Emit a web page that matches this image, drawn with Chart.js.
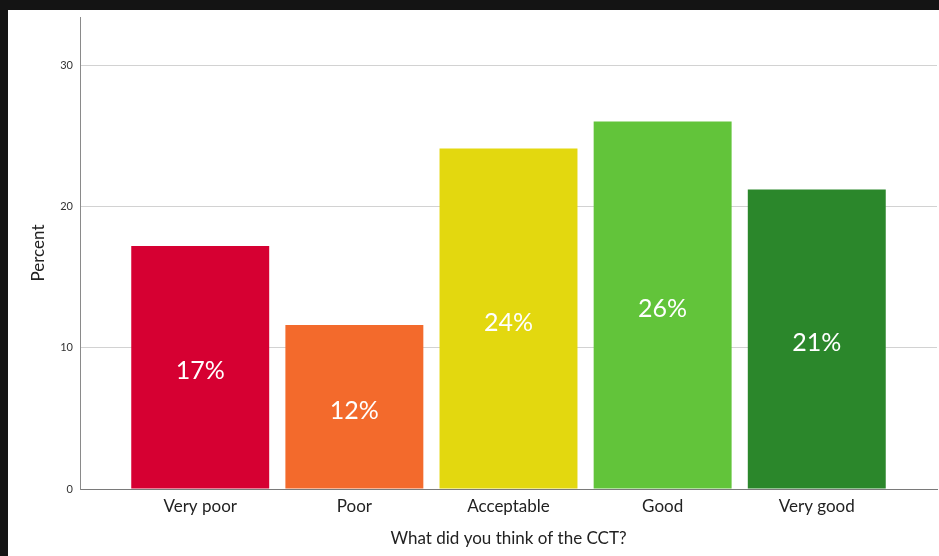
<!DOCTYPE html>
<html>
<head>
<meta charset="utf-8">
<script src="https://cdn.jsdelivr.net/npm/chart.js@4.4.0/dist/chart.umd.min.js"></script>
<style>
  html, body { margin: 0; padding: 0; background: #141414; overflow: hidden; }
  #wrap { position: absolute; left: 8px; top: 10px; width: 931px; height: 546px; background: #fff; }
</style>
</head>
<body>
<div id="wrap"><canvas id="cctChart"></canvas></div>
<script>
// answers on the x axis
var categories = ["Very poor", "Poor", "Acceptable", "Good", "Very good"];
// percent of answers (bar heights)
var percents = [17.2, 11.6, 24.1, 26.0, 21.2];
// text written inside each bar
var barLabels = ["17%", "12%", "24%", "26%", "21%"];
var barColors = ["#d60032", "#f36a2c", "#e3d80f", "#62c43a", "#2b872b"];
var yTicks = [0, 10, 20, 30];

var FONT = "Lato, 'Open Sans', sans-serif";

// write the percent text in the middle of every bar
var barTextPlugin = {
  id: "barText",
  afterDatasetsDraw: function (chart) {
    var ctx = chart.ctx;
    var meta = chart.getDatasetMeta(0);
    ctx.save();
    ctx.fillStyle = "#ffffff";
    ctx.font = "25px " + FONT;
    ctx.textAlign = "center";
    ctx.textBaseline = "middle";
    meta.data.forEach(function (bar, i) {
      ctx.fillText(barLabels[i], bar.x, (bar.y + bar.base) / 2 + 4);
    });
    ctx.restore();
  },
};

var points = percents.map(function (v, i) {
  return { x: i, y: v };
});

var chart = new Chart(document.getElementById("cctChart"), {
  type: "bar",
  data: {
    datasets: [
      {
        data: points,
        backgroundColor: barColors,
        borderWidth: 0,
        barPercentage: 0.895,
        categoryPercentage: 1,
      },
    ],
  },
  plugins: [barTextPlugin],
  options: {
    responsive: true,
    maintainAspectRatio: false,
    animation: false,
    layout: { padding: { top: 7, right: 2, left: 0, bottom: 0 } },
    plugins: {
      legend: { display: false },
      tooltip: { enabled: false },
    },
    scales: {
      x: {
        type: "linear",
        min: -0.78,
        max: 4.78,
        offset: false,
        grid: { display: false, drawTicks: false, offset: false },
        border: { display: true, color: "#7a7a7a", width: 1 },
        afterBuildTicks: function (scale) {
          scale.ticks = categories.map(function (c, i) {
            return { value: i };
          });
        },
        afterFit: function (scale) {
          scale.height = 67;
          scale.paddingLeft = 0;
          scale.paddingRight = 0;
        },
        ticks: {
          autoSkip: false,
          maxRotation: 0,
          padding: 7,
          color: "#222",
          font: { family: FONT, size: 17 },
          callback: function (value) {
            return categories[value];
          },
        },
        title: {
          display: true,
          text: "What did you think of the CCT?",
          color: "#222",
          font: { family: FONT, size: 17 },
          padding: { top: 0, bottom: 7 },
        },
      },
      y: {
        min: 0,
        max: 33.4,
        grid: { color: "#d2d2d2", lineWidth: 1, drawTicks: false },
        border: { display: true, color: "#8a8a8a", width: 1 },
        afterBuildTicks: function (scale) {
          scale.ticks = yTicks.map(function (v) {
            return { value: v };
          });
        },
        afterFit: function (scale) {
          scale.width = 72;
          scale.paddingTop = 0;
          scale.paddingBottom = 0;
        },
        ticks: {
          padding: 7,
          color: "#333",
          font: { family: FONT, size: 11 },
        },
        title: {
          display: true,
          text: "Percent",
          color: "#222",
          font: { family: FONT, size: 17 },
          padding: { top: 20, bottom: 0 },
        },
      },
    },
  },
});
</script>
</body>
</html>
